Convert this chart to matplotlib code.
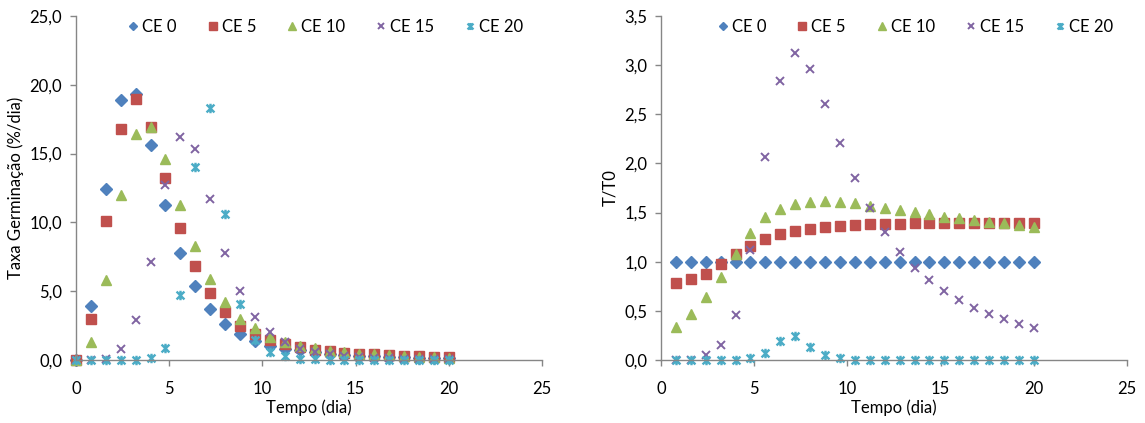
import matplotlib
matplotlib.use("Agg")
import matplotlib.pyplot as plt
from matplotlib.path import Path
from matplotlib.ticker import FuncFormatter

plt.rcParams['font.family'] = ['Lato', 'DejaVu Sans']

# dados
tempo = [0, 0.8, 1.6, 2.4, 3.2, 4.0, 4.8, 5.6, 6.4, 7.2, 8.0, 8.8, 9.6,
         10.4, 11.2, 12.0, 12.8, 13.6, 14.4, 15.2, 16.0, 16.8, 17.6, 18.4, 19.2, 20.0]
taxa_ce0 = [0, 3.9, 12.4, 18.9, 19.3, 15.6, 11.3, 7.8, 5.4, 3.7, 2.6, 1.9, 1.4,
            1.05, 0.8, 0.7, 0.55, 0.45, 0.36, 0.32, 0.28, 0.24, 0.2, 0.18, 0.15, 0.14]
taxa_ce5 = [0, 3.0, 10.1, 16.8, 19.0, 16.9, 13.2, 9.6, 6.85, 4.9, 3.5, 2.5, 1.9,
            1.45, 1.15, 0.95, 0.75, 0.62, 0.52, 0.45, 0.4, 0.35, 0.3, 0.26, 0.22, 0.2]
taxa_ce10 = [0, 1.3, 5.8, 12.0, 16.4, 16.95, 14.6, 11.3, 8.3, 5.9, 4.2, 3.0, 2.3,
             1.65, 1.3, 1.05, 0.85, 0.68, 0.55, 0.46, 0.4, 0.34, 0.28, 0.24, 0.2, 0.18]
taxa_ce15 = [0, 0, 0.1, 0.8, 2.9, 7.1, 12.7, 16.2, 15.3, 11.7, 7.8, 5.0, 3.1,
             2.0, 1.3, 0.8, 0.55, 0.4, 0.3, 0.22, 0.17, 0.13, 0.1, 0.08, 0.06, 0.05]
taxa_ce20 = [0, 0, 0, 0, 0, 0.12, 0.9, 4.7, 14.0, 18.3, 10.6, 4.1, 1.45,
             0.6, 0.3, 0.1, 0.05, 0, 0, 0, 0, 0, 0, 0, 0, 0]

tempo_r = [0.8, 1.6, 2.4, 3.2, 4.0, 4.8, 5.6, 6.4, 7.2, 8.0, 8.8, 9.6,
           10.4, 11.2, 12.0, 12.8, 13.6, 14.4, 15.2, 16.0, 16.8, 17.6, 18.4, 19.2, 20.0]
rel_ce0 = [1.0] * 25
rel_ce5 = [0.78, 0.82, 0.88, 0.98, 1.08, 1.16, 1.23, 1.28, 1.31, 1.33, 1.35, 1.36,
           1.37, 1.38, 1.38, 1.385, 1.39, 1.39, 1.39, 1.39, 1.39, 1.39, 1.39, 1.39, 1.39]
rel_ce10 = [0.34, 0.47, 0.64, 0.84, 1.08, 1.29, 1.45, 1.54, 1.59, 1.61, 1.62, 1.61,
            1.60, 1.57, 1.55, 1.53, 1.51, 1.49, 1.46, 1.44, 1.42, 1.40, 1.39, 1.37, 1.35]
rel_ce15 = [0.0, 0.0, 0.05, 0.15, 0.46, 1.12, 2.07, 2.84, 3.12, 2.96, 2.60, 2.21,
            1.85, 1.55, 1.30, 1.10, 0.94, 0.81, 0.70, 0.61, 0.53, 0.47, 0.415, 0.37, 0.33]
rel_ce20 = [0, 0, 0, 0, 0, 0.02, 0.07, 0.19, 0.24, 0.13, 0.05, 0.02,
            0, 0, 0, 0, 0, 0, 0, 0, 0, 0, 0, 0, 0]

nomes = ['CE 0', 'CE 5', 'CE 10', 'CE 15', 'CE 20']
cores = ['#4F81BD', '#C0504D', '#9BBB59', '#8064A2', '#4BACC6']

# estrela estilo excel: x com barra vertical
estrela = Path([(-1, -1), (1, 1), (-1, 1), (1, -1), (0, -1.2), (0, 1.2)],
               [Path.MOVETO, Path.LINETO, Path.MOVETO, Path.LINETO, Path.MOVETO, Path.LINETO])
marcas = [('D', 6.0, None), ('s', 6.8, None), ('^', 7.4, None), ('x', 6.0, 1.4), (estrela, 6.8, 1.7)]

cinza = '#868686'
fs = 12
virgula = FuncFormatter(lambda v, p: ('%.1f' % v).replace('.', ','))


def painel(ax, x, series, ymax, ystep, ylabel, leg_x):
    for y, nome, cor, (m, ms, mew) in zip(series, nomes, cores, marcas):
        if mew is None:
            ax.plot(x, y, linestyle='none', marker=m, ms=ms, color=cor,
                    markeredgecolor=cor, label=nome, clip_on=False)
        else:
            ax.plot(x, y, linestyle='none', marker=m, ms=ms, color=cor,
                    markeredgewidth=mew, label=nome, clip_on=False)
    ax.set_xlim(0, 25)
    ax.set_ylim(0, ymax)
    ax.set_xticks(range(0, 26, 5))
    yt = [i * ystep for i in range(int(round(ymax / ystep)) + 1)]
    ax.set_yticks(yt)
    ax.yaxis.set_major_formatter(virgula)
    for s in ['top', 'right']:
        ax.spines[s].set_visible(False)
    for s in ['left', 'bottom']:
        ax.spines[s].set_color(cinza)
        ax.spines[s].set_linewidth(1.0)
    ax.tick_params(direction='out', length=4, width=1.0, color=cinza,
                   labelsize=fs, labelcolor='#000000')
    ax.tick_params(axis='x', pad=11)
    ax.tick_params(axis='y', pad=6)
    ax.set_xlabel('Tempo (dia)', fontsize=fs, labelpad=2)
    ax.set_ylabel(ylabel, fontsize=fs, labelpad=4)
    ax.legend(loc='upper center', bbox_to_anchor=(leg_x, 1.012), ncol=5, frameon=False,
              fontsize=fs, handlelength=0.6, handletextpad=0.25, columnspacing=1.85,
              markerscale=0.75, borderaxespad=0)


fig = plt.figure(figsize=(11.45, 4.23), dpi=100)
ax1 = fig.add_axes([76 / 1145, 63 / 423, 466 / 1145, 344 / 423])
ax2 = fig.add_axes([661 / 1145, 63 / 423, 466 / 1145, 344 / 423])

painel(ax1, tempo, [taxa_ce0, taxa_ce5, taxa_ce10, taxa_ce15, taxa_ce20],
       25, 5, 'Taxa Germinação (%/dia)', 0.536)
painel(ax2, tempo_r, [rel_ce0, rel_ce5, rel_ce10, rel_ce15, rel_ce20],
       3.5, 0.5, 'T/T0', 0.546)

fig.savefig('out.png', dpi=100)
